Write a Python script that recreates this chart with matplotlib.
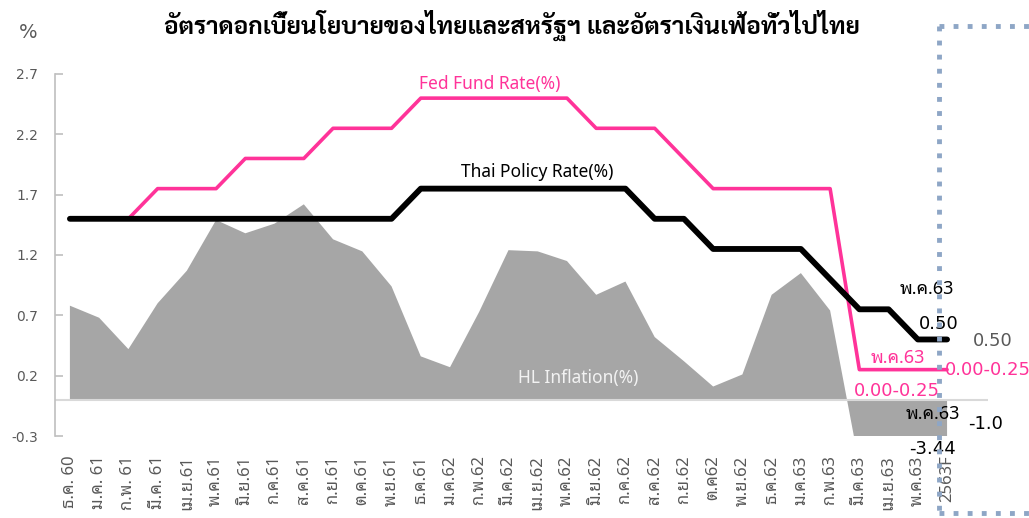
import matplotlib
matplotlib.use("Agg")
import matplotlib.pyplot as plt
from matplotlib.lines import Line2D
import numpy as np

THAI = ["Noto Sans Thai Looped", "Noto Sans Thai", "Sarabun", "Niramit", "DejaVu Sans"]
THAI_BOLD = ["Sarabun", "Niramit", "DejaVu Sans"]
NUM = ["DejaVu Sans", "Sarabun"]

months = ["ธ.ค. 60", "ม.ค. 61", "ก.พ. 61", "มี.ค. 61", "เม.ย.61", "พ.ค.61", "มิ.ย.61",
          "ก.ค.61", "ส.ค.61", "ก.ย.61", "ต.ค.61", "พ.ย.61", "ธ.ค.61", "ม.ค.62",
          "ก.พ.62", "มี.ค.62", "เม.ย.62", "พ.ค.62", "มิ.ย.62", "ก.ค.62", "ส.ค.62",
          "ก.ย.62", "ต.ค62", "พ.ย.62", "ธ.ค.62", "ม.ค.63", "ก.พ.63", "มี.ค.63",
          "เม.ย.63", "พ.ค.63", "2563F"]

fed_rate = [1.5, 1.5, 1.5, 1.75, 1.75, 1.75, 2.0, 2.0, 2.0, 2.25, 2.25, 2.25,
            2.5, 2.5, 2.5, 2.5, 2.5, 2.5, 2.25, 2.25, 2.25, 2.0, 1.75, 1.75,
            1.75, 1.75, 1.75, 0.25, 0.25, 0.25, 0.25]
thai_rate = [1.5, 1.5, 1.5, 1.5, 1.5, 1.5, 1.5, 1.5, 1.5, 1.5, 1.5, 1.5,
             1.75, 1.75, 1.75, 1.75, 1.75, 1.75, 1.75, 1.75, 1.5, 1.5, 1.25, 1.25,
             1.25, 1.25, 1.0, 0.75, 0.75, 0.5, 0.5]
inflation = [0.78, 0.68, 0.42, 0.80, 1.07, 1.49, 1.38, 1.46, 1.62, 1.33, 1.23, 0.94,
             0.36, 0.27, 0.73, 1.24, 1.23, 1.15, 0.87, 0.98, 0.52, 0.32, 0.11, 0.21,
             0.87, 1.05, 0.74, -0.54, -2.99, -3.44, -1.0]
yticks = [-0.3, 0.2, 0.7, 1.2, 1.7, 2.2, 2.7]

x = np.arange(len(months))
pink = "#FF3399"
grey_txt = "#595959"

fig = plt.figure(figsize=(10.29, 5.18), dpi=100)
ax = fig.add_axes([55 / 1029, 82 / 518, (988 - 55) / 1029, (436 - 74) / 518])

ax.fill_between(x, inflation, 0, color="#A6A6A6", lw=0, zorder=1)
ax.axhline(0, color="#D9D9D9", lw=1.5, zorder=2)
ax.plot(x, fed_rate, color=pink, lw=2.6, zorder=3, solid_capstyle="round")
ax.plot(x, thai_rate, color="black", lw=4.2, zorder=4, solid_capstyle="round")

ax.set_xlim(-0.51, 31.4)
ax.set_ylim(-0.3, 2.7)
ax.set_yticks(yticks)
ax.set_yticklabels([f"{v:.1f}" for v in yticks], family=NUM, fontsize=10, color=grey_txt)
ax.tick_params(axis="y", direction="in", length=6, width=1.2, color="#BFBFBF", pad=12)
ax.set_xticks(x)
ax.set_xticklabels(months, rotation=90, family=THAI, fontsize=12, color=grey_txt)
ax.tick_params(axis="x", length=0, pad=14)
for s in ["top", "right", "bottom"]:
    ax.spines[s].set_visible(False)
ax.spines["left"].set_color("#BFBFBF")
ax.spines["left"].set_linewidth(1.2)

# series labels
ax.text(14.36, 2.62, "Fed Fund Rate(%)", color=pink, fontsize=12.5, family=THAI,
        ha="center", va="center")
ax.text(15.97, 1.89, "Thai Policy Rate(%)", color="black", fontsize=12.5, family=THAI,
        ha="center", va="center")
ax.text(17.37, 0.18, "HL Inflation(%)", color="#F2F2F2", fontsize=12.5, family=THAI,
        ha="center", va="center")

# end-point annotations
ax.text(29.3, 0.92, "พ.ค.63", color="black", fontsize=13, family=THAI,
        ha="center", va="center")
ax.text(29.7, 0.63, "0.50", color="black", fontsize=13, family=NUM, ha="center", va="center")
ax.text(28.3, 0.35, "พ.ค.63", color=pink, fontsize=13, family=THAI,
        ha="center", va="center")
ax.text(28.3, 0.07, "0.00-0.25", color=pink, fontsize=13, family=NUM, ha="center", va="center")
ax.text(29.5, -0.12, "พ.ค.63", color="black", fontsize=13, family=THAI,
        ha="center", va="center")
ax.text(29.5, -0.41, "-3.44", color="black", fontsize=13, family=NUM, ha="center",
        va="center", clip_on=False)
ax.text(31.57, 0.49, "0.50", color=grey_txt, fontsize=13, family=NUM, ha="center",
        va="center", clip_on=False)
ax.text(29.93, 0.25, "0.00-0.25", color=pink, fontsize=13, family=NUM, ha="left",
        va="center", clip_on=False)
ax.text(31.3, -0.2, "-1.0", color="black", fontsize=13, family=NUM, ha="center",
        va="center", clip_on=False)

# dotted frame around the forecast column
box = dict(color="#8EA6C6", lw=3.5, linestyle=(0, (1, 1.9)), transform=fig.transFigure)
fig.add_artist(Line2D([939 / 1029, 939 / 1029], [1 - 26 / 518, 1 - 513 / 518], **box))
fig.add_artist(Line2D([939 / 1029, 1.0], [1 - 26 / 518, 1 - 26 / 518], **box))
fig.add_artist(Line2D([939 / 1029, 1.0], [1 - 513 / 518, 1 - 513 / 518], **box))

fig.text(28 / 1029, 1 - 33 / 518, "%", fontsize=14, color=grey_txt, family=NUM,
         ha="center", va="center")
fig.text(512 / 1029, 1 - 25 / 518,
         "อัตราดอกเบี้ยนโยบายของไทยและสหรัฐฯ และอัตราเงินเฟ้อทั่วไปไทย",
         fontsize=17.6, weight="bold", family=THAI_BOLD, ha="center", va="center")

fig.savefig("out.png", dpi=100)
